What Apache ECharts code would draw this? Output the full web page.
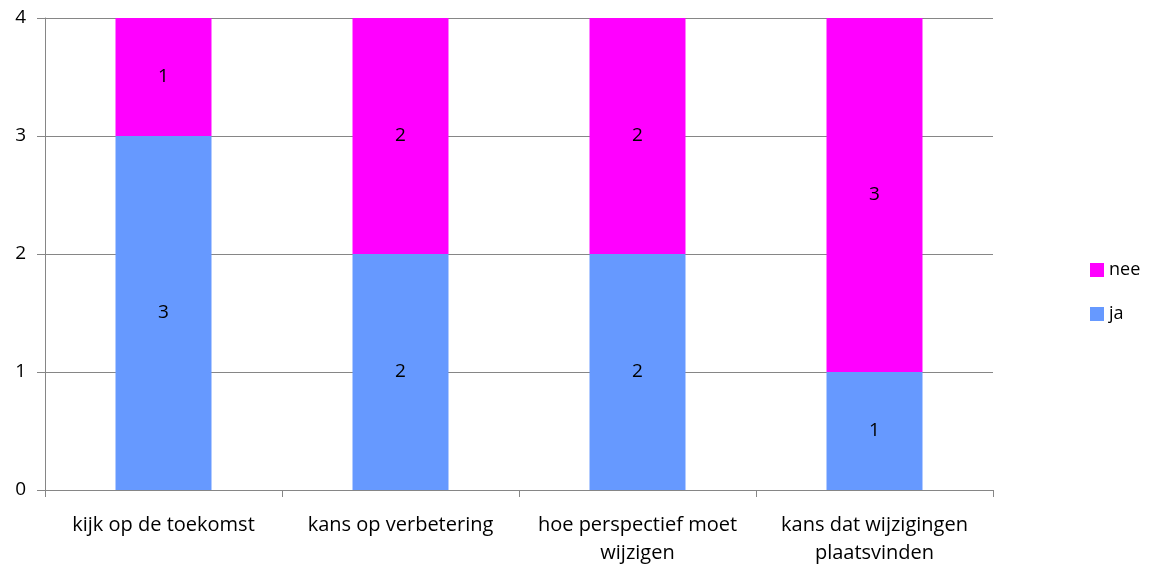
<!DOCTYPE html>
<html>
<head>
<meta charset="utf-8">
<script src="https://cdn.jsdelivr.net/npm/echarts@6/dist/echarts.min.js"></script>
<style>
  html, body { margin: 0; padding: 0; background: #fff; }
  #chart { width: 1155px; height: 570px; }
</style>
</head>
<body>
<div id="chart"></div>
<script>
// Categories and answer counts
const categories = [
  'kijk op de toekomst',
  'kans op verbetering',
  'hoe perspectief moet\nwijzigen',
  'kans dat wijzigingen\nplaatsvinden'
];
const ja = [3, 2, 2, 1];
const nee = [1, 2, 2, 3];
const yTicks = [0, 1, 2, 3, 4];

const FONT = '"Open Sans", Lato, sans-serif';
const chart = echarts.init(document.getElementById('chart'), null, { renderer: 'canvas' });

const labelStyle = {
  show: true,
  position: 'inside',
  color: '#000',
  fontSize: 19,
  fontFamily: FONT
};

chart.setOption({
  animation: false,
  grid: { left: 45, right: 162, top: 18, bottom: 80, containLabel: false },
  legend: {
    orient: 'vertical',
    left: 1085,
    top: 256,
    itemWidth: 14,
    itemHeight: 14,
    itemGap: 26,
    icon: 'rect',
    data: ['nee', 'ja'],
    textStyle: { fontSize: 18, fontFamily: FONT, color: '#000' }
  },
  xAxis: {
    type: 'category',
    data: categories,
    axisLine: { lineStyle: { color: '#868686', width: 1 } },
    axisTick: { show: true, length: 7, lineStyle: { color: '#868686' } },
    axisLabel: { color: '#000', fontSize: 20, fontFamily: FONT, margin: 21, lineHeight: 28, interval: 0 }
  },
  yAxis: {
    type: 'value',
    min: yTicks[0],
    max: yTicks[yTicks.length - 1],
    interval: 1,
    axisLine: { show: true, lineStyle: { color: '#868686', width: 1 } },
    axisTick: { show: true, length: 8, lineStyle: { color: '#868686' } },
    splitLine: { lineStyle: { color: '#868686', width: 1 } },
    axisLabel: { color: '#000', fontSize: 19, fontFamily: FONT, margin: 19 }
  },
  series: [
    {
      name: 'ja',
      type: 'bar',
      stack: 'total',
      data: ja,
      barWidth: '40.5%',
      itemStyle: { color: '#6699FF' },
      label: labelStyle
    },
    {
      name: 'nee',
      type: 'bar',
      stack: 'total',
      data: nee,
      barWidth: '40.5%',
      itemStyle: { color: '#FF00FF' },
      label: labelStyle
    }
  ]
});
</script>
</body>
</html>
